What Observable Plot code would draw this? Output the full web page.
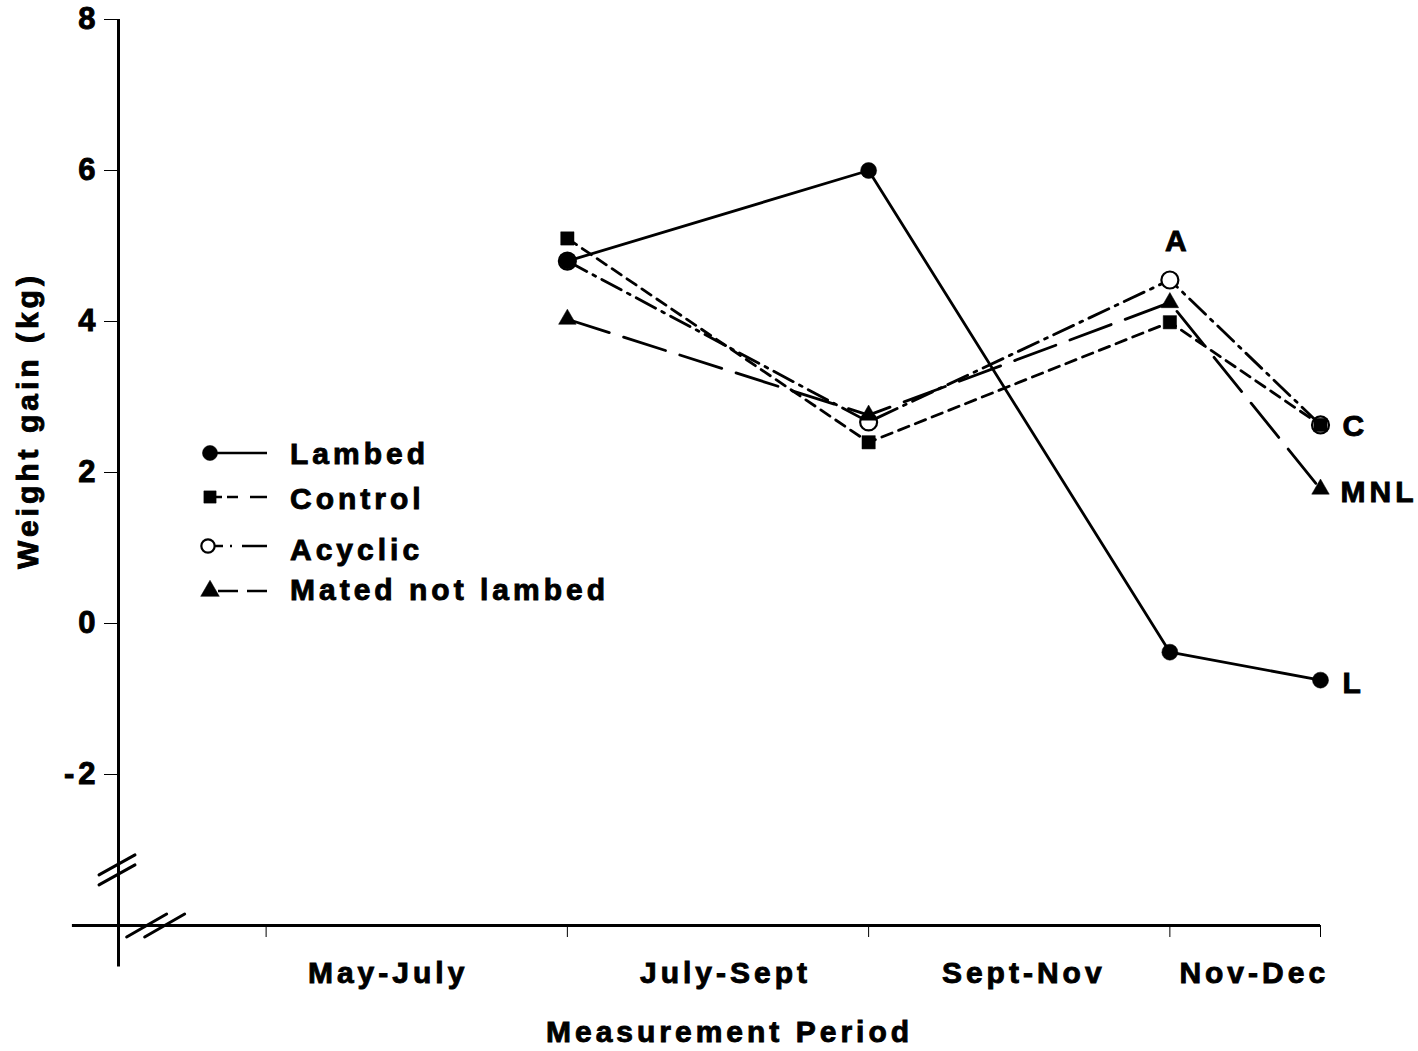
<!DOCTYPE html>
<html><head><meta charset="utf-8">
<script src="https://cdn.jsdelivr.net/npm/d3@7"></script>
<script src="https://cdn.jsdelivr.net/npm/@observablehq/plot@0.6"></script>
<style>html,body{margin:0;padding:0;background:#fff} svg text{stroke:black;stroke-width:0.9px;}</style>
</head><body><div id="chart"></div>
<script>
// ---- data ----
const months = [7, 9, 11, 12];               // end month of each measurement period
const lambed = [4.8, 6.0, -0.38, -0.75];
const control = [5.1, 2.4, 3.99, 2.63];
const acyclic = [4.8, 2.67, 4.55, 2.63];
const matedNotLambed = [4.03, 2.76, 4.25, 1.78];
const seriesNames = ["Lambed", "Control", "Acyclic", "Mated not lambed"];
const endLabels = ["L", "C", "A", "MNL"];
const periodLabels = ["May-July", "July-Sept", "Sept-Nov", "Nov-Dec"];
const periodLabelMonth = [5.81, 8.05, 10.03, 11.56];
const xTickMonths = [5, 7, 9, 11, 12];
const yTicks = [-2, 0, 2, 4, 6, 8];
const xTitle = "Measurement Period";
const yTitle = "Weight gain (kg)";
const yBreak = -3.27;
const xBreak = 4.27;

// ---- styles ----
const FONT = "'Liberation Sans', Arial, Helvetica, sans-serif";
const seriesValues = [lambed, control, acyclic, matedNotLambed];
const styles = {
  "Lambed": {dash: null, symbol: "circle", fill: "black", r: 8, lab: {dx: 22, dy: 3, anchor: "start"}},
  "Control": {dash: "11,7", symbol: "square", fill: "black", r: 7.5, lab: {dx: 22, dy: 1, anchor: "start"}},
  "Acyclic": {dash: "22,7,3,7", symbol: "circle", fill: "white", r: 8.5, lab: {dx: 8, dy: -39, anchor: "middle"}},
  "Mated not lambed": {dash: "44,15", symbol: "triangle", fill: "black", r: 6.5, lab: {dx: 20, dy: 3, anchor: "start"}}
};

const rows = seriesNames.flatMap((s, k) =>
  months.map((m, i) => ({series: s, month: m, value: seriesValues[k][i]})));

const xDomain = [4.02, 12];
const yDomain = [-4, 8];

const lineMarks = seriesNames.map(s => Plot.line(rows.filter(d => d.series === s), {
  x: "month", y: "value", stroke: "black", strokeWidth: 2.8,
  strokeDasharray: styles[s].dash ?? undefined
}));

const dotOrder = ["Acyclic", "Control", "Mated not lambed", "Lambed"];
const dotMarks = dotOrder.map(s => Plot.dot(rows.filter(d => d.series === s), {
  x: "month", y: "value", symbol: () => styles[s].symbol, r: styles[s].r,
  fill: styles[s].fill, stroke: "black", strokeWidth: s === "Acyclic" ? 2.2 : 0.5
}));

const labelMarks = seriesNames.map((s, k) => {
  const pts = rows.filter(d => d.series === s);
  const last = s === "Acyclic" ? pts[2] : pts.at(-1);
  return Plot.text([last], {
    x: "month", y: "value", text: () => endLabels[k], dx: styles[s].lab.dx, dy: styles[s].lab.dy,
    textAnchor: styles[s].lab.anchor, fontSize: 30, fontWeight: "bold", fill: "black"
  });
});

const chart = Plot.plot({
  width: 1418, height: 1051,
  marginLeft: 118, marginRight: 98, marginTop: 19, marginBottom: 126,
  style: `font-family: ${FONT}; font-weight: bold; letter-spacing: 4px; background: white;`,
  x: {domain: xDomain, type: "linear"},
  y: {domain: yDomain, type: "linear"},
  marks: [
    Plot.ruleX([xDomain[0]], {y1: -4.55, y2: 8, stroke: "black", strokeWidth: 3}),
    Plot.ruleY([yDomain[0]], {x1: 3.714, x2: 12, stroke: "black", strokeWidth: 3}),
    Plot.axisY({ticks: yTicks, tickSize: 14, tickPadding: 5, fontSize: 31, label: null, tickFormat: d => String(d)}),
    Plot.axisX({ticks: xTickMonths, tickSize: 12, tickFormat: () => "", label: null}),
    Plot.text(periodLabels, {x: periodLabelMonth, y: yDomain[0], text: d => d, dy: 48, fontSize: 30, fontWeight: "bold"}),
    Plot.text([xTitle], {frameAnchor: "bottom", dx: 10, dy: 116, fontSize: 30, fontWeight: "bold"}),
    Plot.text([yTitle], {frameAnchor: "left", textAnchor: "middle", rotate: -90, dx: -90, dy: -52, fontSize: 30, fontWeight: "bold"}),
    ...lineMarks,
    ...dotMarks,
    ...labelMarks
  ]
});
document.getElementById("chart").append(chart);

// ---- axis breaks and legend (decorations) ----
const sx = chart.scale("x"), sy = chart.scale("y");
const svg = d3.select(chart);
const deco = svg.append("g").attr("stroke", "black").attr("stroke-width", 3).attr("stroke-linecap", "round");
const yb = sy.apply(yBreak), xa = sx.apply(xDomain[0]);
[-5, 5].forEach(o => deco.append("line")
  .attr("x1", xa - 19).attr("y1", yb + o + 10).attr("x2", xa + 17).attr("y2", yb + o - 10));
const xb = sx.apply(xBreak), ya = sy.apply(yDomain[0]);
[-9, 9].forEach(o => deco.append("line")
  .attr("x1", xb + o - 20).attr("y1", ya + 12).attr("x2", xb + o + 20).attr("y2", ya - 11));

const legend = [
  {name: "Lambed", cy: 453, ty: 453, sym: "circle", fill: "black", size: 180, x0: 211, dash: null},
  {name: "Control", cy: 497, ty: 498, sym: "square", fill: "black", size: 150, x0: 215, dash: "7,5,11,12,17"},
  {name: "Acyclic", cy: 546, ty: 549, sym: "circle", fill: "white", size: 140, x0: 215, dash: "8,7,2,10,25"},
  {name: "Mated not lambed", cy: 591, ty: 589, sym: "triangle", fill: "black", size: 150, x0: 218, dash: "20,9,20"}
];
const symMap = {circle: d3.symbolCircle, square: d3.symbolSquare, triangle: d3.symbolTriangle};
const lg = svg.append("g").attr("text-anchor", "start");
legend.forEach(it => {
  lg.append("line").attr("x1", it.x0).attr("x2", 267).attr("y1", it.cy).attr("y2", it.cy)
    .attr("stroke", "black").attr("stroke-width", 2.6).attr("stroke-dasharray", it.dash);
  lg.append("path").attr("d", d3.symbol(symMap[it.sym], it.size)())
    .attr("transform", `translate(${it.sym === "circle" && it.fill === "white" ? 208 : 210},${it.cy})`)
    .attr("fill", it.fill).attr("stroke", "black").attr("stroke-width", it.fill === "white" ? 2.2 : 0.5);
  lg.append("text").attr("x", 290).attr("y", it.ty).attr("dy", "0.35em").attr("text-anchor", "start")
    .attr("font-size", 30).attr("font-weight", "bold").attr("fill", "black").text(it.name);
});
</script></body></html>
